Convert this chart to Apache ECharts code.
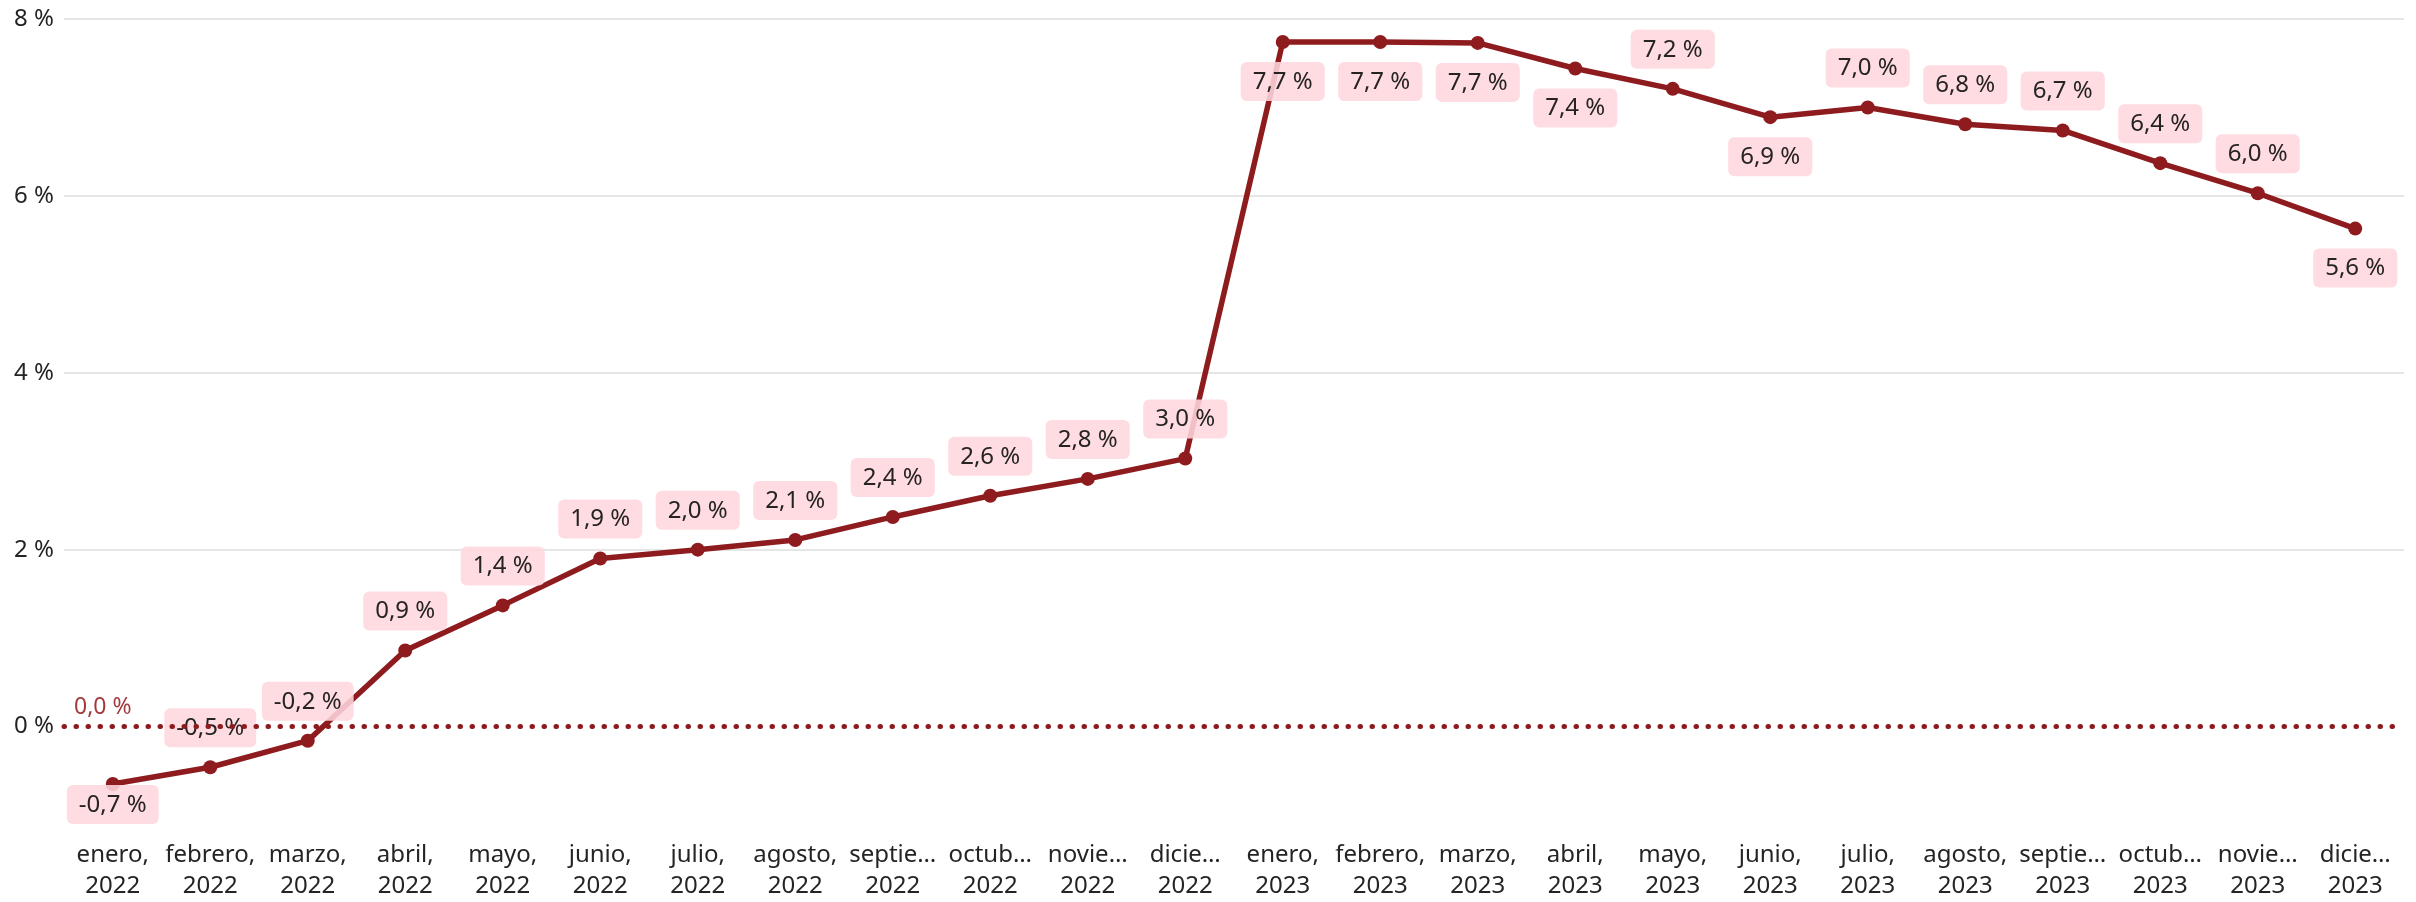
<!DOCTYPE html>
<html>
<head>
<meta charset="utf-8">
<script src="https://cdn.jsdelivr.net/npm/echarts@6/dist/echarts.min.js"></script>
<style>
html,body{margin:0;padding:0;background:#fff;}
#chart{width:2416px;height:902px;}
</style>
</head>
<body>
<div id="chart"></div>
<script>
// ---- data ----
const months = ['enero,', 'febrero,', 'marzo,', 'abril,', 'mayo,', 'junio,', 'julio,', 'agosto,', 'septie…', 'octub…', 'novie…', 'dicie…'];
const years = ['2022', '2023'];
const values2022 = [-0.65, -0.46, -0.16, 0.86, 1.37, 1.90, 2.00, 2.11, 2.37, 2.61, 2.80, 3.03];
const values2023 = [7.74, 7.74, 7.73, 7.44, 7.21, 6.89, 7.00, 6.81, 6.74, 6.37, 6.03, 5.63];
const yTicks = [0, 2, 4, 6, 8];
const referenceValue = 0;

// ---- build ----
const categories = [];
years.forEach(y => months.forEach(m => categories.push(m + '\n' + y)));
const values = values2022.concat(values2023);
const belowIdx = [0, 12, 13, 14, 15, 17, 23];
const fmt = v => v.toFixed(1).replace('.', ',') + ' %';

const seriesData = values.map((v, i) => {
  const label = { position: belowIdx.includes(i) ? 'bottom' : 'top' };
  if (i === 0) label.distance = -6; // kept inside plot area
  return { value: v, label };
});

const chart = echarts.init(document.getElementById('chart'));
chart.setOption({
  animation: false,
  grid: { left: 64, right: 12, top: 19, bottom: 76, containLabel: false },
  xAxis: {
    type: 'category',
    data: categories,
    boundaryGap: true,
    axisLine: { show: false },
    axisTick: { show: false },
    axisLabel: {
      interval: 0,
      fontFamily: 'Noto Sans',
      fontSize: 24,
      color: '#252423',
      lineHeight: 31,
      margin: 25
    }
  },
  yAxis: {
    type: 'value',
    min: -1,
    max: 8,
    axisLine: { show: false },
    axisTick: { show: false, customValues: yTicks },
    axisLabel: {
      customValues: yTicks,
      fontFamily: 'Noto Sans',
      fontSize: 24,
      color: '#252423',
      margin: 10,
      formatter: v => v + ' %'
    },
    splitLine: { show: false }
  },
  series: [
    {
      type: 'line',
      data: seriesData,
      symbol: 'circle',
      symbolSize: 14,
      lineStyle: { color: '#8E1C1F', width: 5.5 },
      itemStyle: { color: '#8E1C1F' },
      z: 3,
      label: {
        show: true,
        distance: 13,
        formatter: p => fmt(p.value),
        fontFamily: 'Noto Sans',
        fontSize: 24,
        color: '#252423',
        backgroundColor: 'rgba(255,214,222,0.88)',
        borderRadius: 6,
        padding: [8, 12, 7, 12]
      },
      markLine: {
        silent: true,
        symbol: 'none',
        z: 2,
        data: yTicks.filter(t => t !== referenceValue).map(t => ({ yAxis: t })),
        lineStyle: { color: '#E6E6E6', width: 2, type: 'solid' },
        label: { show: false }
      }
    },
    {
      type: 'line',
      data: [],
      z: 4,
      markLine: {
        silent: true,
        symbol: 'none',
        data: [{ yAxis: referenceValue }],
        lineStyle: { color: '#8E1C1F', width: 5, type: [0.5, 11.5], cap: 'round' },
        label: {
          show: true,
          position: 'insideStartTop',
          formatter: () => fmt(referenceValue),
          fontFamily: 'Noto Sans',
          fontSize: 23,
          color: '#A33A3C',
          distance: [10, 8]
        }
      }
    }
  ]
});
</script>
</body>
</html>
